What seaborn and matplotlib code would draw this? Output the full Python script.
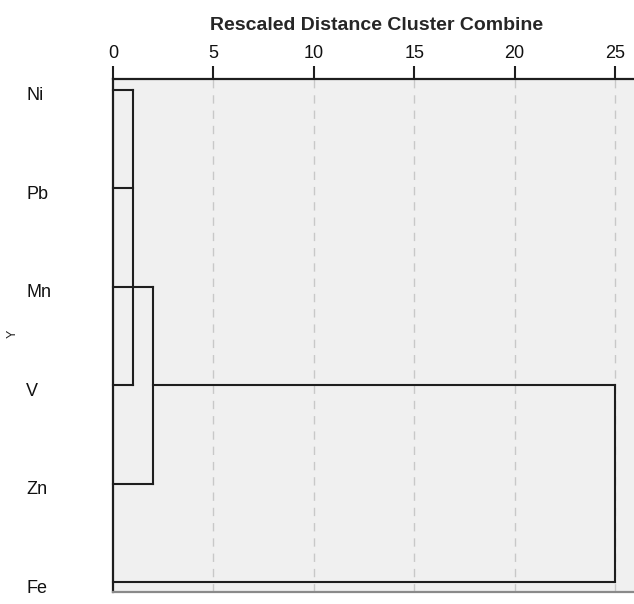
import matplotlib
matplotlib.use("Agg")
import matplotlib.pyplot as plt
import matplotlib.transforms as mtransforms
import seaborn as sns
import pandas as pd
import numpy as np

# ---- data ----
labels = ["Ni", "Pb", "Mn", "V", "Zn", "Fe"]
leaf_extent = [1, 1, 2, 1, 2, 25]          # distance where each leaf's branch ends
vlink_dist = [1, 2, 25]                     # vertical joins: distance
vlink_top = ["Ni", "Mn", "V"]
vlink_bottom = ["V", "Zn", "Fe"]
hlink_row = ["V"]                           # connector horizontals
hlink_from = [2]
hlink_to = [25]
x_ticks = [0, 5, 10, 15, 20, 25]

sns.set_theme(style="white")
plt.rcParams["font.family"] = ["Liberation Sans", "DejaVu Sans"]

pos = {lab: i for i, lab in enumerate(labels)}
rows = []
seg = 0
for lab, ext in zip(labels, leaf_extent):
    rows += [dict(seg=seg, x=0, y=pos[lab]), dict(seg=seg, x=ext, y=pos[lab])]
    seg += 1
for d, t, b in zip(vlink_dist, vlink_top, vlink_bottom):
    rows += [dict(seg=seg, x=d, y=pos[t]), dict(seg=seg, x=d, y=pos[b])]
    seg += 1
for r, a, b in zip(hlink_row, hlink_from, hlink_to):
    rows += [dict(seg=seg, x=a, y=pos[r]), dict(seg=seg, x=b, y=pos[r])]
    seg += 1
df = pd.DataFrame(rows)

fig = plt.figure(figsize=(6.34, 6.04), dpi=100)
ax = fig.add_axes([113 / 634, 12 / 604, 1 - 113 / 634, (592 - 79) / 604])
ax.set_facecolor("#f0f0f0")

for xv in x_ticks[1:]:
    ax.axvline(xv, color="#c8c8c8", lw=1.0, ls=(0, (6, 5)), zorder=1)

sns.lineplot(data=df, x="x", y="y", units="seg", estimator=None, sort=False,
             color="#1e1e1e", lw=1.5, ax=ax, legend=False, zorder=3)
for line in ax.lines:
    line.set_clip_on(False)
    line.set_solid_capstyle("projecting")

ax.set_xlim(0, (634 - 113) / 20.08)
ax.set_ylim(len(labels) - 1 + 0.1, -0.11)

ax.xaxis.tick_top()
ax.set_xticks(x_ticks)
ax.set_xticklabels([str(v) for v in x_ticks], fontsize=13, color="#111111")
ax.tick_params(axis="x", direction="out", length=9.5, width=1.5, color="#1e1e1e",
               pad=2.5, top=True, bottom=False)
ax.set_xlabel("")

ax.set_yticks(range(len(labels)))
ax.set_yticklabels(labels, fontsize=13, ha="left", color="#111111")
ax.tick_params(axis="y", length=0, pad=(113 - 26) * 0.72, left=True)
ax.set_ylabel("")
shift = mtransforms.ScaledTranslation(0, -4 / 100, fig.dpi_scale_trans)
for t in ax.get_yticklabels():
    t.set_transform(t.get_transform() + shift)

for s in ["top", "left"]:
    ax.spines[s].set_color("#1e1e1e")
    ax.spines[s].set_linewidth(1.6)
ax.spines["right"].set_visible(False)
ax.spines["bottom"].set_color("#8a8a8a")
ax.spines["bottom"].set_linewidth(1.6)

fig.text(377 / 634, 1 - 26 / 604, "Rescaled Distance Cluster Combine",
         ha="center", va="center", fontsize=14, fontweight="bold")
fig.text(13 / 634, 1 - 334 / 604, "Y", ha="center", va="center",
         rotation=90, fontsize=9)

fig.savefig("out.png", dpi=100)
